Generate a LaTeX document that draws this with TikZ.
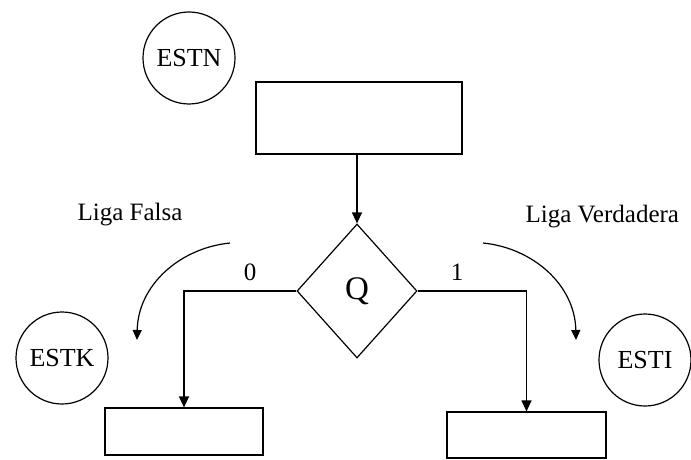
\documentclass[tikz,border=0pt]{standalone}
\usepackage{fontspec}
\setmainfont{Liberation Serif}
\usetikzlibrary{shapes.geometric,arrows.meta}
\begin{document}
\begin{tikzpicture}[x=1pt,y=-1pt,
  line width=1.2pt,
  state/.style={circle,draw,minimum size=92pt,inner sep=0pt,font=\fontsize{26}{28}\selectfont},
  box/.style={draw,inner sep=0pt},
  lbl/.style={font=\fontsize{25}{28}\selectfont,inner sep=0pt},
  arr/.style={-{Triangle[length=11pt,width=10pt]}},
  carr/.style={-{Triangle[length=10pt,width=9pt]}}]
\useasboundingbox (0,0) rectangle (691,460);
\node[state] (estn) at (189,58) {ESTN};
\node[box,minimum width=206pt,minimum height=72pt] (top) at (359,118) {};
\node[diamond,draw,minimum width=120pt,minimum height=134pt,inner sep=0pt,font=\fontsize{33}{35}\selectfont] (q) at (357,291) {Q};
\node[box,minimum width=158pt,minimum height=47pt] (bl) at (184,431.5) {};
\node[box,minimum width=159pt,minimum height=46pt] (br) at (526.5,435) {};
\node[state] (estk) at (62,358) {ESTK};
\node[state] (esti) at (645,360) {ESTI};
\node[lbl,anchor=west] (lf) at (77,215) {Liga Falsa};
\node[lbl,anchor=west] (lv) at (525,217) {Liga Verdadera};
\node[lbl] (z) at (250,272) {0};
\node[lbl] (o) at (457,272) {1};
\draw[arr] (top.south -| q.north) -- (q.north);
\draw[arr] (q.west) -| (bl.north);
\draw[arr] (q.east) -| (br.north);
\coordinate (la) at (230,243);
\coordinate (lb) at (137,340);
\coordinate (ra) at (483,243);
\coordinate (rb) at (576,340);
\draw[carr] (la) .. controls (180,248) and (138,285) .. (lb);
\draw[carr] (ra) .. controls (533,248) and (575,285) .. (rb);
\end{tikzpicture}
\end{document}
